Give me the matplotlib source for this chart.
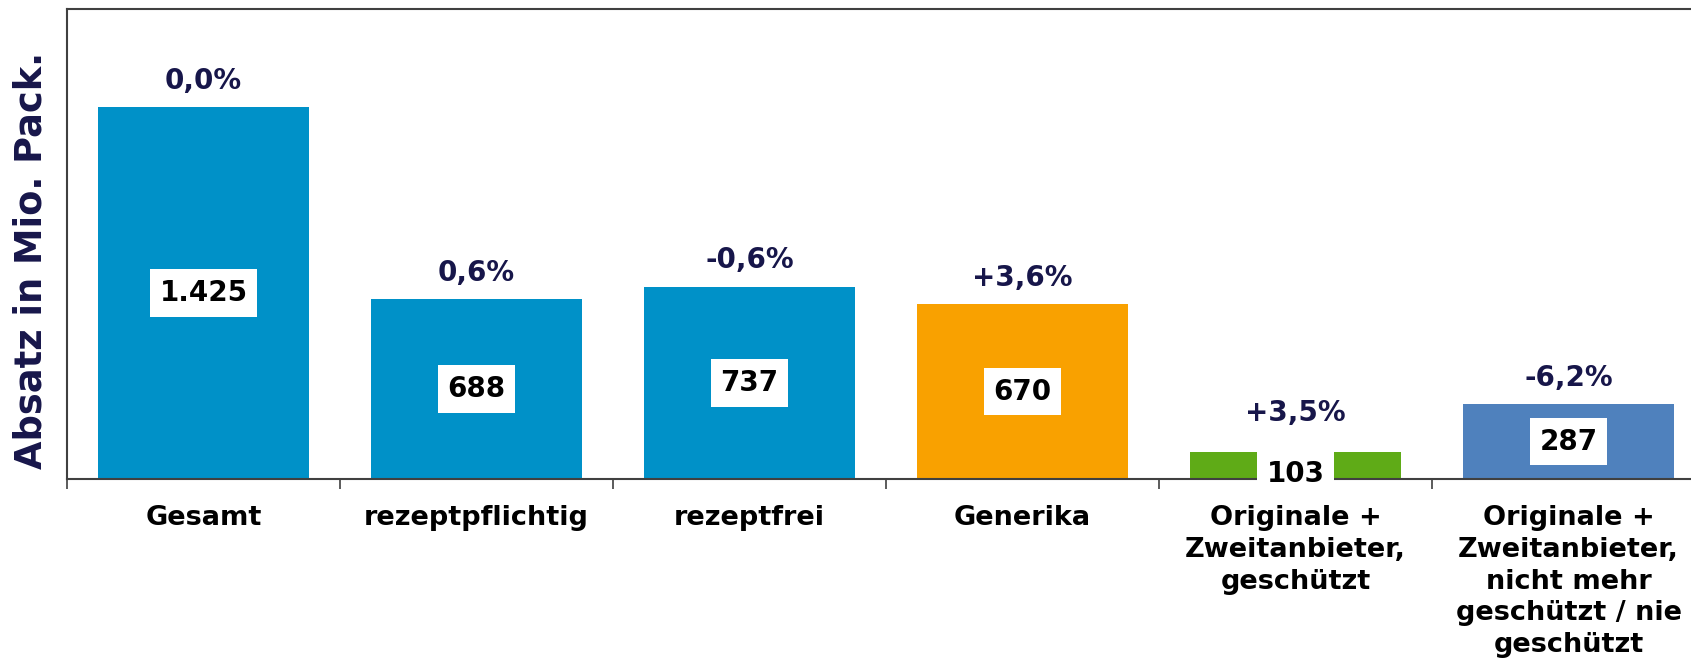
import numpy as np
import matplotlib.pyplot as plt

# Data
categories = ['Gesamt', 'rezeptpflichtig', 'rezeptfrei', 'Generika',
              'Originale +\nZweitanbieter,\ngeschützt',
              'Originale +\nZweitanbieter,\nnicht mehr\ngeschützt / nie\ngeschützt']
absatz = [1425, 688, 737, 670, 103, 287]
value_labels = ['1.425', '688', '737', '670', '103', '287']
changes = ['0,0%', '0,6%', '-0,6%', '+3,6%', '+3,5%', '-6,2%']
colors = ['#0091c8', '#0091c8', '#0091c8', '#f9a100', '#5fab17', '#4f81bd']

navy = '#17164a'
axis_col = '#404040'

fig = plt.figure(figsize=(16.91, 6.62), dpi=100)
ax = fig.add_axes([67 / 1691, 1 - 479 / 662, 1638 / 1691, 470 / 662])

x = np.arange(len(categories))
ax.bar(x, absatz, width=0.77, color=colors, zorder=2)

ax.set_xlim(-0.5, len(categories) - 0.5)
ax.set_ylim(0, 1800)

# value labels in white boxes, middle of bar
for xi, v, lab in zip(x, absatz, value_labels):
    dy = 0 if v > 200 else -6
    ax.annotate(lab, (xi, v / 2), xytext=(0, dy), textcoords='offset points',
                ha='center', va='center', fontsize=20, fontweight='bold',
                color='black', zorder=5, annotation_clip=False,
                bbox=dict(boxstyle='square,pad=0.35', fc='white', ec='none'))

# change labels above bars
for xi, v, lab in zip(x, absatz, changes):
    off = 19 if v > 200 else 28
    ax.annotate(lab, (xi, v), xytext=(0, off), textcoords='offset points',
                ha='center', va='center', fontsize=20, fontweight='bold',
                color=navy)

# axis styling
for side in ['left', 'top', 'bottom', 'right']:
    ax.spines[side].set_color(axis_col)
    ax.spines[side].set_linewidth(1.5)
ax.set_yticks([])
ax.set_xticks(x)
ax.set_xticklabels(categories, fontsize=19.5, fontweight='bold', color='black',
                   linespacing=1.28)
ax.tick_params(axis='x', which='major', length=0, pad=19)
ax.set_xticks(np.arange(-0.5, len(categories)), minor=True)
ax.tick_params(axis='x', which='minor', length=7, width=1.2, color=axis_col,
               direction='out')

fig.text(31 / 1691, 1 - 260 / 662, 'Absatz in Mio. Pack.', rotation=90,
         ha='center', va='center', fontsize=26.5, fontweight='bold', color=navy)

fig.savefig('out.png', dpi=100)
